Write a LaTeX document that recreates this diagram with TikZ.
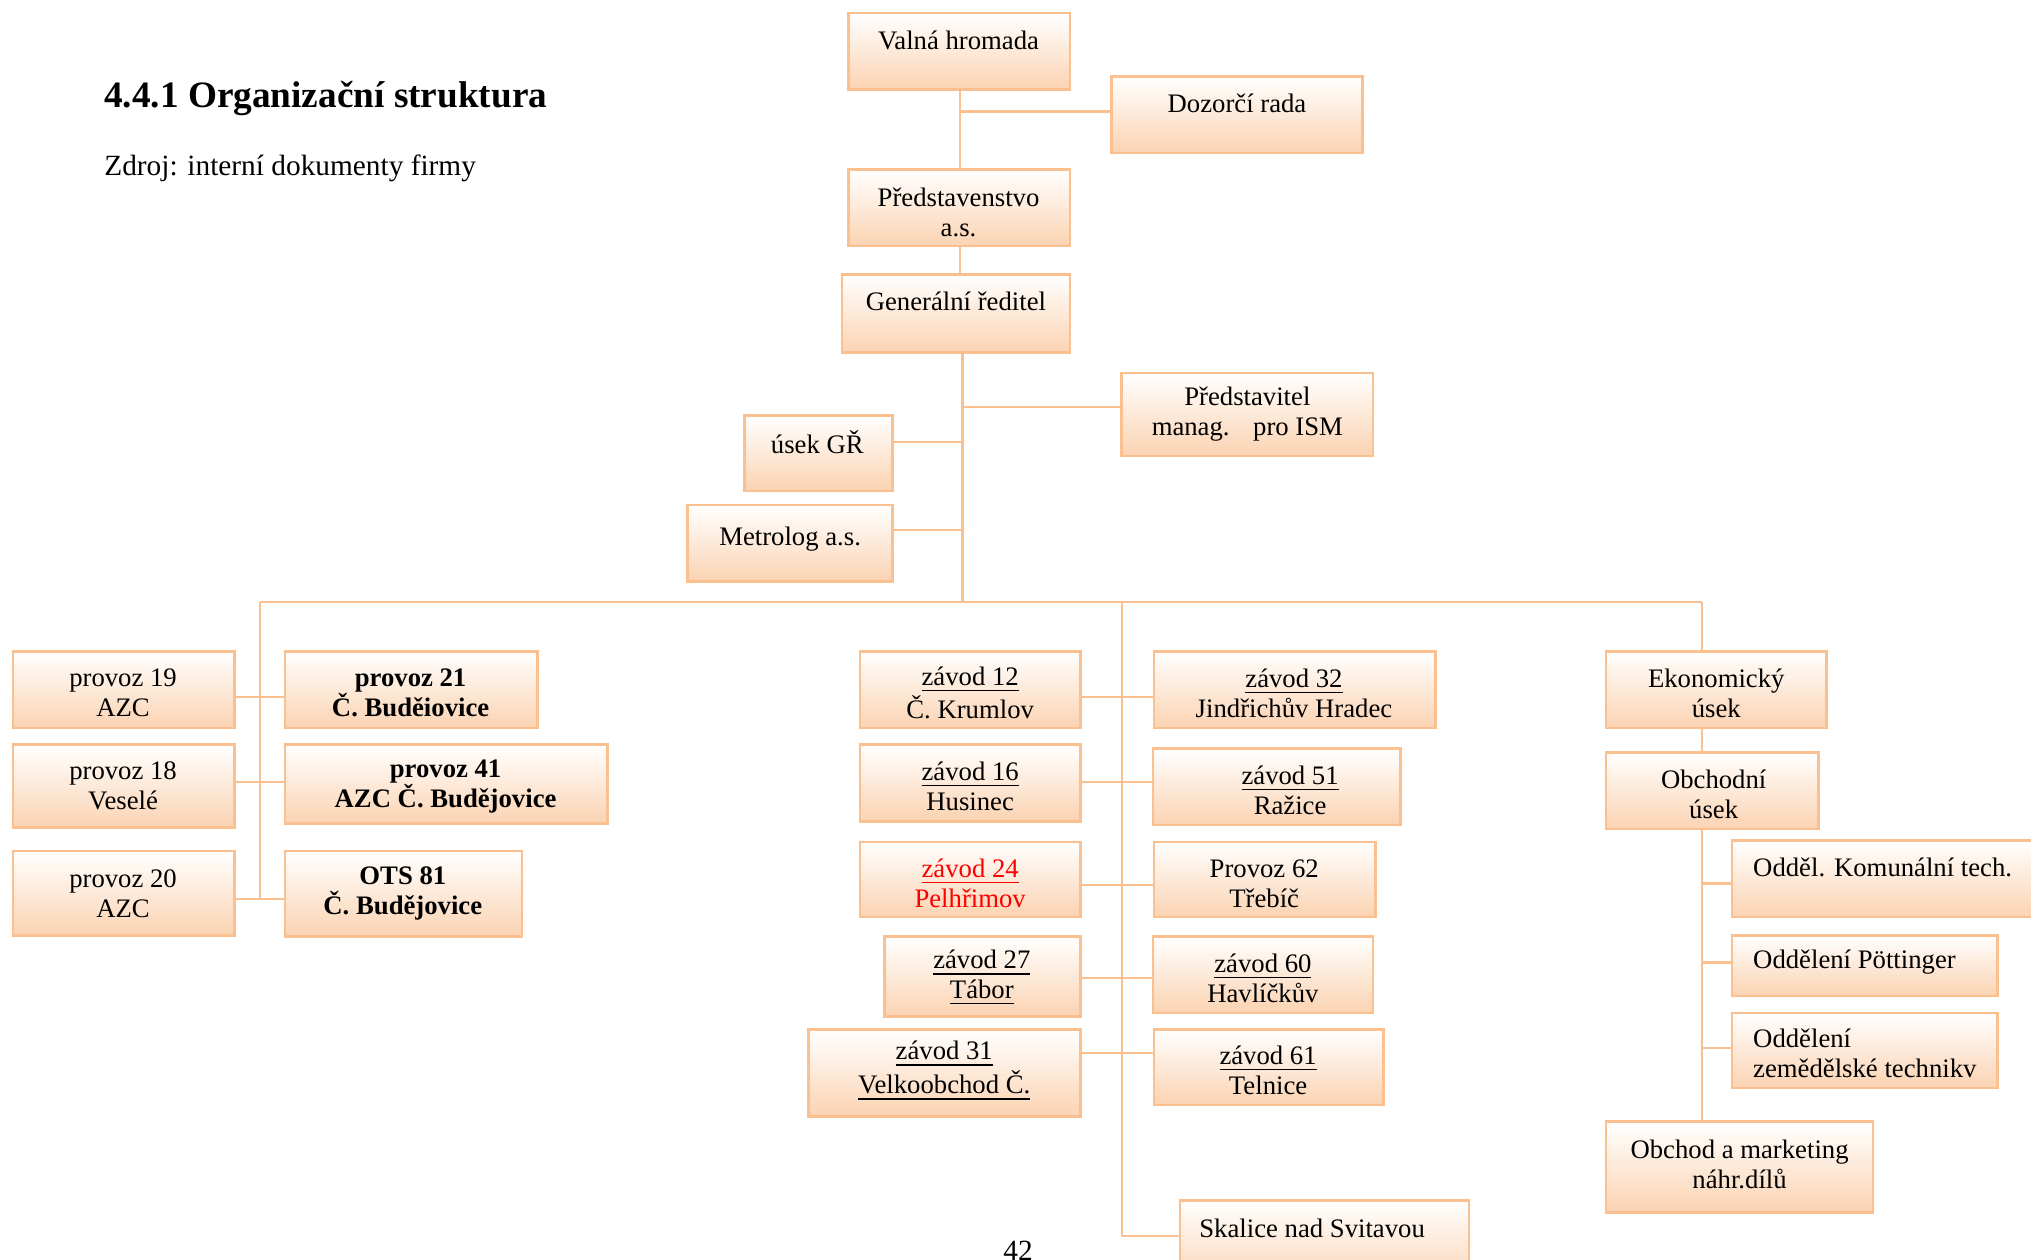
\documentclass[tikz,border=0pt]{standalone}
\usepackage{fontspec}
\setmainfont{Liberation Serif}
\usetikzlibrary{fit,calc}
\definecolor{bord}{RGB}{250,192,143}
\definecolor{peach}{RGB}{251,211,178}
\begin{document}
\begin{tikzpicture}[x=0.012953cm, y=-0.012953cm,
  box/.style={draw=bord, line width=0.75pt, top color=white, bottom color=peach, inner sep=0pt},
  conn/.style={draw=bord, line width=0.65pt},
  txt/.style={font=\fontsize{7.6}{8.5}\selectfont, align=center, inner sep=0pt},
  txtl/.style={font=\fontsize{7.6}{8.5}\selectfont, align=left, inner sep=0pt, anchor=west},
  btxt/.style={font=\fontsize{7.6}{8.5}\selectfont\bfseries, align=center, inner sep=0pt}]
\useasboundingbox (0,0) rectangle (1568,972);

% heading
\node[anchor=west, inner sep=0pt, font=\fontsize{10.6}{12}\selectfont\bfseries] (head) at (80,76) {4.4.1 Organizační struktura};
\node[anchor=west, inner sep=0pt, font=\fontsize{8.35}{10}\selectfont] (src) at (80,130) {Zdroj: interní dokumenty firmy};

% top boxes
\node[box, fit={(655,10)(826,69)}] (vh) {};
\node[box, fit={(858,59)(1052,118)}] (dr) {};
\node[box, fit={(655,131)(826,190)}] (ps) {};
\node[box, fit={(650,212)(826,272)}] (gr) {};
\node[box, fit={(866,288)(1060,352)}] (pm) {};
\node[box, fit={(575,321)(689,379)}] (ug) {};
\node[box, fit={(531,390)(689,449)}] (ml) {};

\node[txt] (vh-t) at (740,31) {Valná hromada};
\node[txt] (dr-t) at (955,80) {Dozorčí rada};
\node[txt] (ps-t) at (740,164) {Představenstvo\\a.s.};
\node[txt] (gr-t) at (738,233) {Generální ředitel};
\node[txt] (pm-t) at (963,320) {Představitel\\manag.\hspace{0.55em} pro ISM};
\node[txt] (ug-t) at (631,341) {úsek GŘ};
\node[txt] (ml-t) at (610,416) {Metrolog a.s.};

% left group
\node[box, fit={(10,503)(181,562)}] (p19) {};
\node[box, fit={(220,503)(415,562)}] (p21) {};
\node[box, fit={(10,575)(181,639)}] (p18) {};
\node[box, fit={(220,575)(469,636)}] (p41) {};
\node[box, fit={(10,657)(181,722)}] (p20) {};
\node[box, fit={(220,657)(403,723)}] (o81) {};

\node[txt] (p19-t) at (95,535) {provoz 19\\AZC};
\node[btxt] (p21-t) at (317,535) {provoz 21\\Č. Buděiovice};
\node[txt] (p18-t) at (95,607) {provoz 18\\Veselé};
\node[btxt] (p41-t) at (344,607) {provoz 41\\AZC Č. Budějovice};
\node[txt] (p20-t) at (95,690) {provoz 20\\AZC};
\node[btxt] (o81-t) at (311,690) {OTS 81\\Č. Budějovice};

% middle group
\node[box, fit={(664,503)(834,562)}] (z12) {};
\node[box, fit={(891,503)(1108,562)}] (z32) {};
\node[box, fit={(664,575)(834,634)}] (z16) {};
\node[box, fit={(890,578)(1081,637)}] (z51) {};
\node[box, fit={(664,650)(834,708)}] (z24) {};
\node[box, fit={(891,650)(1062,708)}] (p62) {};
\node[box, fit={(683,723)(834,785)}] (z27) {};
\node[box, fit={(890,723)(1060,782)}] (z60) {};
\node[box, fit={(624,795)(834,862)}] (z31) {};
\node[box, fit={(891,795)(1068,853)}] (z61) {};
\node[box, fit={(911,927)(1134,995)}] (sk) {};

\node[txt] (z12-t) at (749,535) {\underline{závod 12}\\Č. Krumlov};
\node[txt] (z32-t) at (999,535) {\underline{závod 32}\\Jindřichův Hradec};
\node[txt] (z16-t) at (749,607) {\underline{závod 16}\\Husinec};
\node[txt] (z51-t) at (996,610) {\underline{závod 51}\\Ražice};
\node[txt, text=red] (z24-t) at (749,682) {\underline{závod 24}\\Pelhřimov};
\node[txt] (p62-t) at (976,682) {Provoz 62\\Třebíč};
\node[txt] (z27-t) at (758,755) {\underline{závod 27}\\\underline{Tábor}};
\node[txt] (z60-t) at (975,755) {\underline{závod 60}\\Havlíčkův};
\node[txt] (z31-t) at (729,827) {\underline{závod 31}\\\underline{Velkoobchod Č.}};
\node[txt] (z61-t) at (979,826) {\underline{závod 61}\\Telnice};
\node[txt] (sk-t) at (1013,948) {Skalice nad Svitavou};

% right group
\node[box, fit={(1240,503)(1410,562)}] (ek) {};
\node[box, fit={(1240,581)(1404,640)}] (ob) {};
\node[box, fit={(1337,649)(1600,708)}] (ok) {};
\node[box, fit={(1337,722)(1542,769)}] (op) {};
\node[box, fit={(1337,782)(1542,840)}] (oz) {};
\node[box, fit={(1240,866)(1446,936)}] (om) {};

\node[txt] (ek-t) at (1325,535) {Ekonomický\\úsek};
\node[txt] (ob-t) at (1323,613) {Obchodní\\úsek};
\node[txtl] (ok-t) at (1353,670) {Odděl. Komunální tech.};
\node[txtl] (op-t) at (1353,743) {Oddělení Pöttinger};
\node[txtl] (oz-t) at (1353,813) {Oddělení\\zemědělské technikv};
\node[txt] (om-t) at (1343,899) {Obchod a marketing\\náhr.dílů};

% page number
\node[inner sep=0pt, font=\fontsize{8.35}{10}\selectfont] (pg) at (786,966) {42};

% connectors top
\coordinate (tj) at (741,86);
\draw[conn] (vh.south -| tj) -- (ps.north -| tj);
\draw[conn] (tj) -- (tj -| dr.west);
\draw[conn] (ps.south -| tj) -- (gr.north -| tj);
\coordinate (bC) at (743,465);
\draw[conn] (gr.south -| bC) -- (bC);
\coordinate (j1) at (743,314);
\draw[conn] (j1) -- (j1 -| pm.west);
\coordinate (j2) at (743,341);
\draw[conn] (j2) -- (j2 -| ug.east);
\coordinate (j3) at (743,409);
\draw[conn] (j3) -- (j3 -| ml.east);

% bus
\coordinate (bL) at (201,465);
\coordinate (bM) at (866,465);
\coordinate (bR) at (1314,465);
\draw[conn] (bL) -- (bR);

% left branch
\coordinate (l3) at (201,694);
\draw[conn] (bL) -- (l3);
\coordinate (l1) at (201,538);
\coordinate (l2) at (201,604);
\draw[conn] (l1 -| p19.east) -- (l1 -| p21.west);
\draw[conn] (l2 -| p18.east) -- (l2 -| p41.west);
\draw[conn] (l3 -| p20.east) -- (l3 -| o81.west);

% middle branch
\coordinate (m6) at (866,954);
\draw[conn] (bM) -- (m6) -- (m6 -| sk.west);
\coordinate (m1) at (866,538);
\coordinate (m2) at (866,604);
\coordinate (m3) at (866,683);
\coordinate (m4) at (866,755);
\coordinate (m5) at (866,813);
\draw[conn] (m1 -| z12.east) -- (m1 -| z32.west);
\draw[conn] (m2 -| z16.east) -- (m2 -| z51.west);
\draw[conn] (m3 -| z24.east) -- (m3 -| p62.west);
\draw[conn] (m4 -| z27.east) -- (m4 -| z60.west);
\draw[conn] (m5 -| z31.east) -- (m5 -| z61.west);

% right branch
\draw[conn] (bR) -- (bR |- ek.north);
\draw[conn] (ek.south -| bR) -- (ob.north -| bR);
\draw[conn] (ob.south -| bR) -- (om.north -| bR);
\coordinate (r1) at (1314,682);
\coordinate (r2) at (1314,743);
\coordinate (r3) at (1314,809);
\draw[conn] (r1) -- (r1 -| ok.west);
\draw[conn] (r2) -- (r2 -| op.west);
\draw[conn] (r3) -- (r3 -| oz.west);
\end{tikzpicture}
\end{document}
